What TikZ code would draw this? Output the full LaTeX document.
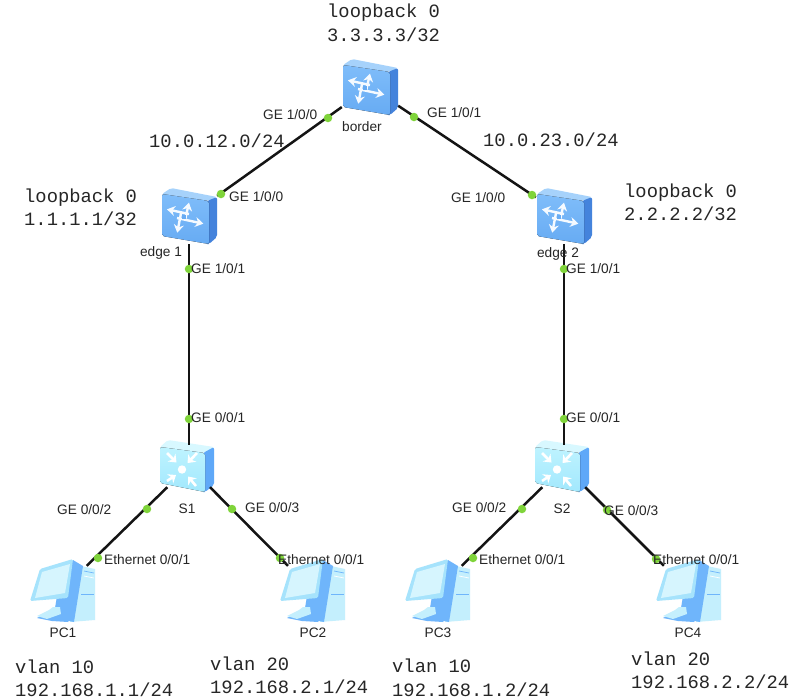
\documentclass[tikz,border=0pt]{standalone}
\usepackage{fontspec}
\setmainfont{Liberation Sans}
\newfontfamily\monofam{Liberation Mono}
\usetikzlibrary{arrows.meta}
\definecolor{wire}{HTML}{141414}
\definecolor{portgreen}{HTML}{7FD43A}
\definecolor{txt}{HTML}{262626}
\definecolor{rtop}{HTML}{A6D2FB}
\definecolor{rfa}{HTML}{7FBDFA}
\definecolor{rfb}{HTML}{67ABF3}
\definecolor{rside}{HTML}{4483DC}
\definecolor{stopc}{HTML}{D8F8FF}
\definecolor{sfa}{HTML}{BEF3FF}
\definecolor{sfb}{HTML}{A2E8FD}
\definecolor{sside}{HTML}{5FA8F8}
\definecolor{pctower}{HTML}{C4EFFD}
\definecolor{pcblue}{HTML}{6FB5FB}
\definecolor{pcframe}{HTML}{A6E3FC}
\definecolor{pcscreen}{HTML}{D6F5FE}
\tikzset{
  x=1pt,y=-1pt,
  wirelink/.style={draw=wire,line width=2.5pt},
  portdot/.style={circle,fill=portgreen,draw=none,minimum size=8.5pt,inner sep=0pt},
  portlabel/.style={anchor=west,inner sep=0pt,font=\fontsize{13.7}{13.7}\selectfont,text=txt},
  iconlabel/.style={anchor=center,inner sep=0pt,font=\fontsize{13.7}{13.7}\selectfont,text=txt},
  monolabel/.style={anchor=base west,inner sep=0pt,font=\monofam\fontsize{18.8}{18.8}\selectfont,text=txt},
  routerbox/.style={rectangle,minimum width=56pt,minimum height=56pt,inner sep=0pt},
  switchbox/.style={rectangle,minimum width=60pt,minimum height=42pt,inner sep=0pt},
  pcbox/.style={rectangle,minimum width=54pt,minimum height=48pt,inner sep=0pt},
  glyph/.style={draw=white!92!rfa,line width=2.4pt,-{Stealth[length=8pt,width=10pt]}},
  sglyph/.style={draw=white,line width=2.6pt,-{Stealth[length=7pt,width=11pt]}},
  routericon/.pic={
    \fill[rtop,rounded corners=2pt] (-27,-22) -- (-18,-28) -- (28,-19) -- (20,-15) -- cycle;
    \fill[rside,rounded corners=2pt] (18,-15) -- (28,-19) -- (28,21) -- (20,28) -- (18,28) -- cycle;
    \fill[top color=rfa,bottom color=rfb,rounded corners=2pt] (-27,-22) -- (20,-15) -- (20,28) -- (-27,20) -- cycle;
    \draw[glyph] (0,-2) -- (-22,-6.7);
    \draw[glyph] (-12,2) -- (14.3,7.7);
    \draw[glyph] (-4,4) -- (0,-13.3);
    \draw[glyph] (-8,-3) -- (-11.7,16.7);
    \fill[rfb] (-7.5,-1) rectangle (-3.5,2.5);
  },
  switchicon/.pic={
    \fill[stopc,rounded corners=2pt] (-27,-19) -- (-19,-26) -- (27,-19) -- (18,-13) -- cycle;
    \fill[sside,rounded corners=2pt] (16,-13) -- (27,-19) -- (27,19) -- (18,26) -- (16,26) -- cycle;
    \fill[top color=sfa,bottom color=sfb,rounded corners=2pt] (-27,-19) -- (18,-13) -- (18,26) -- (-27,17) -- cycle;
    \fill[white] (-5,3.5) circle (4.2pt);
    \draw[sglyph] (-20,-13) -- (-10.5,-3.5);
    \draw[sglyph] (10,-13) -- (0.5,-3);
    \draw[sglyph] (-20,15) -- (-11,9);
    \draw[sglyph] (9,20) -- (1,10.5);
  },
  pcicon/.pic={
    \fill[pctower] (19,-24) -- (33,-21) -- (33,30) -- (8,32) -- cycle;
    \fill[pcblue] (11,-30) -- (21,-24) -- (12,32) -- (2,30) -- (-8,24) -- (-5,6) -- cycle;
    \fill[pcblue] (-25,28) -- (-12,21) -- (8,29) -- (6,32) -- (-10,31) -- cycle;
    \fill[pctower] (-25,26) -- (-13,20) -- (-9,17) -- (-2,17) -- (-1,24) -- (-15,29) -- cycle;
    \fill[pcframe,rounded corners=1.5pt] (-22,-21) -- (11,-31) -- (6,8) -- (-32,11) -- cycle;
    \fill[pcscreen] (-20,-18) -- (8,-26) -- (3,3) -- (-27,8) -- cycle;
    \draw[pcblue,line width=.7pt] (22,-19) -- (32,-17);
    \draw[white,line width=.7pt] (22,-14) -- (32,-12);
    \draw[pcblue,line width=.7pt] (19,4) -- (32,4);
  },
}
\begin{document}
\begin{tikzpicture}
\useasboundingbox (0,0) rectangle (798,699);
\fill[white] (0,0) rectangle (798,699);
% device boxes (connectors are clipped to these)
\node[routerbox] (border) at (370,87) {};
\node[routerbox] (edgeA) at (189,216) {};
\node[routerbox] (edgeB) at (564,216) {};
\node[switchbox] (swA) at (189,466) {};
\node[switchbox] (swB) at (564,466) {};
\node[pcbox] (pcA) at (62,590) {};
\node[pcbox] (pcB) at (312,590) {};
\node[pcbox] (pcC) at (437,590) {};
\node[pcbox] (pcD) at (688,590) {};
% icons
\pic at (370,87) {routericon};
\pic at (189,216) {routericon};
\pic at (564,216) {routericon};
\pic at (187,466) {switchicon};
\pic at (562,466) {switchicon};
\pic at (62,590) {pcicon};
\pic at (312,590) {pcicon};
\pic at (437,590) {pcicon};
\pic at (688,590) {pcicon};
% connectors
\draw[wirelink] (border) -- (edgeA);
\draw[wirelink] (border) -- (edgeB);
\draw[wirelink] (edgeA) -- (swA);
\draw[wirelink] (edgeB) -- (swB);
\draw[wirelink] (swA) -- (pcA);
\draw[wirelink] (swA) -- (pcB);
\draw[wirelink] (swB) -- (pcC);
\draw[wirelink] (swB) -- (pcD);
% port dots
\node[portdot] (d1) at (328,118) {};
\node[portdot] (d2) at (221,194) {};
\node[portdot] (d3) at (414,117) {};
\node[portdot] (d4) at (532,195) {};
\node[portdot] (d5) at (189,269) {};
\node[portdot] (d6) at (189,419) {};
\node[portdot] (d7) at (564,269) {};
\node[portdot] (d8) at (564,419) {};
\node[portdot] (d9) at (147,509) {};
\node[portdot] (d10) at (98,558) {};
\node[portdot] (d11) at (232,509) {};
\node[portdot] (d12) at (280,558) {};
\node[portdot] (d13) at (522,509) {};
\node[portdot] (d14) at (473,558) {};
\node[portdot] (d15) at (607,510) {};
\node[portdot] (d16) at (656,559) {};
% device names
\node[iconlabel] (nborder) at (362,127) {border};
\node[iconlabel] (nedgeA) at (161,253) {edge 1};
\node[iconlabel] (nedgeB) at (558,254) {edge 2};
\node[iconlabel] (nswA) at (187,509) {S1};
\node[iconlabel] (nswB) at (562,509) {S2};
\node[iconlabel] (npcA) at (63,633) {PC1};
\node[iconlabel] (npcB) at (313,633) {PC2};
\node[iconlabel] (npcC) at (438,633) {PC3};
\node[iconlabel] (npcD) at (688,633) {PC4};
% port labels
\node[portlabel] (p1) at (263,115) {GE 1/0/0};
\node[portlabel] (p2) at (229,197) {GE 1/0/0};
\node[portlabel] (p3) at (427,113) {GE 1/0/1};
\node[portlabel] (p4) at (451,198) {GE 1/0/0};
\node[portlabel] (p5) at (191,269) {GE 1/0/1};
\node[portlabel] (p6) at (191,418) {GE 0/0/1};
\node[portlabel] (p7) at (566,269) {GE 1/0/1};
\node[portlabel] (p8) at (566,418) {GE 0/0/1};
\node[portlabel] (p9) at (57,510) {GE 0/0/2};
\node[portlabel] (p10) at (245,508) {GE 0/0/3};
\node[portlabel] (p11) at (452,508) {GE 0/0/2};
\node[portlabel] (p12) at (604,511) {GE 0/0/3};
\node[portlabel] (p13) at (104,560) {Ethernet 0/0/1};
\node[portlabel] (p14) at (278,560) {Ethernet 0/0/1};
\node[portlabel] (p15) at (479,560) {Ethernet 0/0/1};
\node[portlabel] (p16) at (653,560) {Ethernet 0/0/1};
% annotations
\node[monolabel] (m1) at (327,17) {loopback 0};
\node[monolabel] (m2) at (327,41) {3.3.3.3/32};
\node[monolabel] (m3) at (149,147) {10.0.12.0/24};
\node[monolabel] (m4) at (483,146) {10.0.23.0/24};
\node[monolabel] (m5) at (24,202) {loopback 0};
\node[monolabel] (m6) at (24,225) {1.1.1.1/32};
\node[monolabel] (m7) at (624,197) {loopback 0};
\node[monolabel] (m8) at (624,220) {2.2.2.2/32};
\node[monolabel] (m9) at (15,673) {vlan 10};
\node[monolabel] (m10) at (15,696) {192.168.1.1/24};
\node[monolabel] (m11) at (210,670) {vlan 20};
\node[monolabel] (m12) at (210,693) {192.168.2.1/24};
\node[monolabel] (m13) at (392,672) {vlan 10};
\node[monolabel] (m14) at (392,696) {192.168.1.2/24};
\node[monolabel] (m15) at (631,665) {vlan 20};
\node[monolabel] (m16) at (631,688) {192.168.2.2/24};
\end{tikzpicture}
\end{document}
